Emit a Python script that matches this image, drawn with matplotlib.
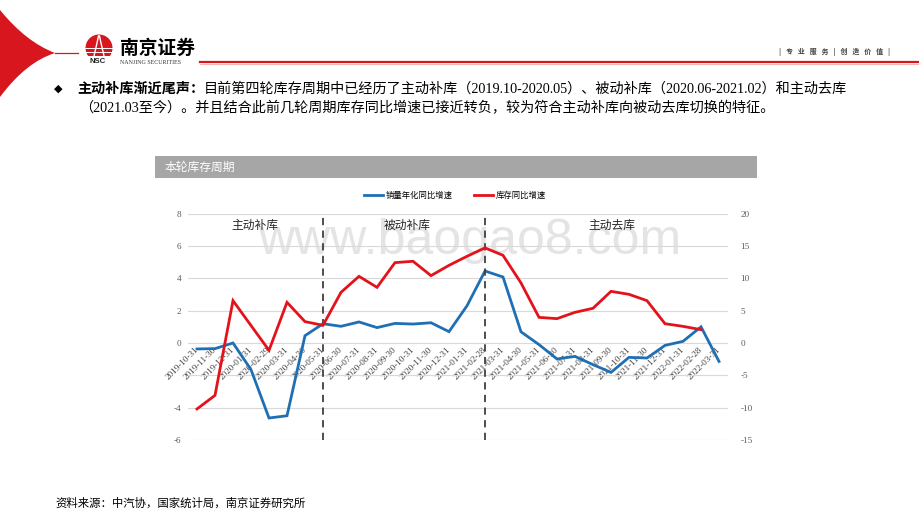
import numpy as np
import matplotlib
matplotlib.use("Agg")
import matplotlib.pyplot as plt
from matplotlib.patches import Rectangle, Circle, PathPatch
from matplotlib.path import Path
from matplotlib.lines import Line2D

plt.rcParams['axes.unicode_minus'] = False

# ---------------- data ----------------
dates = ['2019-10-31', '2019-11-30', '2019-12-31', '2020-01-31', '2020-02-29', '2020-03-31',
         '2020-04-30', '2020-05-31', '2020-06-30', '2020-07-31', '2020-08-31', '2020-09-30',
         '2020-10-31', '2020-11-30', '2020-12-31', '2021-01-31', '2021-02-28', '2021-03-31',
         '2021-04-30', '2021-05-31', '2021-06-30', '2021-07-31', '2021-08-31', '2021-09-30',
         '2021-10-31', '2021-11-30', '2021-12-31', '2022-01-31', '2022-02-28', '2022-03-31']
sales_yoy = [-0.37, -0.35, 0.0, -1.65, -4.64, -4.5, 0.45, 1.19, 1.03, 1.3, 0.95, 1.21,
             1.17, 1.25, 0.7, 2.3, 4.45, 4.08, 0.69, -0.1, -0.99, -0.83, -1.34, -1.82,
             -0.89, -0.93, -0.15, 0.1, 1.0, -1.14]
inventory_yoy = [-10.2, -8.1, 6.54, 2.7, -1.14, 6.28, 3.3, 2.73, 7.83, 10.3, 8.6, 12.42,
                 12.63, 10.41, 12.0, 13.4, 14.7, 13.55, 9.28, 3.96, 3.76, 4.74, 5.36, 7.98,
                 7.52, 6.54, 2.98, 2.57, 2.06, np.nan]
series_names = ['销量年化同比增速', '库存同比增速']
phase_names = ['主动补库', '被动补库', '主动去库']
phase_label_pos = [3.2, 11.7, 23.05]
phase_breaks = ['2020-05-31', '2021-02-28']
left_ticks = [-6, -4, -2, 0, 2, 4, 6, 8]
left_tick_labels = ['-6', '-4', '', '0', '2', '4', '6', '8']
right_ticks = [-15, -10, -5, 0, 5, 10, 15, 20]

W, H = 920, 518
fig = plt.figure(figsize=(W / 100, H / 100), dpi=100)
CJK = ['Noto Sans CJK SC', 'DejaVu Sans']
SERIF_CJK = ['Liberation Serif', 'Noto Sans CJK SC', 'DejaVu Sans']

# overlay axes in pixel coordinates
bg = fig.add_axes([0, 0, 1, 1], zorder=-5)
bg.set_xlim(0, W)
bg.set_ylim(H, 0)
bg.axis('off')

RED = '#d7161e'
# red crescent shape at top-left
verts = [(0, 10), (26, 42), (55, 53), (26, 62), (0, 97), (0, 10)]
codes = [Path.MOVETO, Path.CURVE3, Path.CURVE3, Path.CURVE3, Path.CURVE3, Path.CLOSEPOLY]
bg.add_patch(PathPatch(Path(verts, codes), facecolor=RED, edgecolor='none'))
bg.plot([55, 78], [53, 53], color=RED, lw=0.9)
bg.plot([200, 920], [62, 62], color=RED, lw=1.6)
bg.plot([200, 920], [63.5, 63.5], color='#f2b8b8', lw=0.8)

# logo icon
circ = Circle((99, 48), 13.5, facecolor=RED, edgecolor='none')
bg.add_patch(circ)
bg.add_patch(Rectangle((84, 56), 32, 8, facecolor='white', edgecolor='none'))
for yy in [47.5, 51.5]:
    bg.plot([85, 113], [yy, yy], color='white', lw=0.7)
bg.plot([94, 97, 98.5], [56, 43, 36], color='white', lw=1.0)
bg.plot([104, 101, 99.5], [56, 43, 36], color='white', lw=1.0)
bg.text(98, 61.5, 'NSC', ha='center', va='center', fontsize=5.6, fontweight='bold',
        family=['Liberation Sans'], color='#222222')
bg.text(120, 48, '南京证券', ha='left', va='center', fontsize=13.5, fontweight='bold',
        family=CJK, color='black')
bg.text(120, 62, 'NANJING SECURITIES', ha='left', va='center', fontsize=4.3,
        family=['Liberation Serif'], color='#333333')
bg.text(890, 52, '|   专   业   服   务   |   创   造   价   值   |', ha='right', va='center',
        fontsize=5.0, fontweight='bold', family=CJK, color='#444444')

# body text
r = fig.canvas.get_renderer()
bg.text(58, 89, '◆', ha='center', va='center', fontsize=8, family=['DejaVu Sans'], color='black')
t1 = bg.text(77, 89, '主动补库渐近尾声：', ha='left', va='center', fontsize=10,
             fontweight='bold', family=CJK, color='black')
t2 = bg.text(77, 89, '目前第四轮库存周期中已经历了主动补库（2019.10-2020.05）、被动补库（2020.06-2021.02）和主动去库',
             ha='left', va='center', fontsize=10, family=SERIF_CJK, color='black')
w1 = t1.get_window_extent(r).width
w2 = t2.get_window_extent(r).width
s = 10 * 771 / (w1 + w2)
t1.set_fontsize(s)
t2.set_fontsize(s)
t2.set_x(77 + w1 * s / 10)
bg.text(79, 108, '（2021.03至今）。并且结合此前几轮周期库存同比增速已接近转负，较为符合主动补库向被动去库切换的特征。',
        ha='left', va='center', fontsize=s, family=SERIF_CJK, color='black')

# chart title bar
bg.add_patch(Rectangle((155, 156), 602, 22, facecolor='#a6a6a6', edgecolor='none'))
bg.text(165, 167.5, '本轮库存周期', ha='left', va='center', fontsize=8.5, family=CJK, color='white')

# watermark
bg.text(470, 241, 'www.baogao8.com', ha='center', va='center', fontsize=36,
        family=['Liberation Sans'], color='#e4e4e4')

# footer
bg.text(55, 503, '资料来源：中汽协，国家统计局，南京证券研究所', ha='left', va='center',
        fontsize=8.2, family=CJK, color='black')

# ---------------- chart ----------------
ax = fig.add_axes([188 / W, 1 - 440 / H, 540 / W, (440 - 213.6) / H])
ax.patch.set_visible(False)
x = np.arange(len(dates))
BLUE = '#1f6fb4'
LRED = '#e3121b'
ax.plot(x, sales_yoy, color=BLUE, lw=2.0, zorder=3, solid_joinstyle='miter')
ax.set_xlim(-0.5, len(dates) - 0.5)
ax.set_ylim(-6, 8)
ax.set_yticks(left_ticks)
ax.set_yticklabels(left_tick_labels)
ax.grid(axis='y', color='#d9d9d9', lw=0.8)
ax.set_axisbelow(True)
for sp in ax.spines.values():
    sp.set_visible(False)
ax.spines['bottom'].set_position(('data', 0))
ax.set_xticks(x)
ax.set_xticklabels(dates, rotation=45, ha='right', va='center', rotation_mode='anchor',
                   family=['Liberation Serif'], fontsize=6.6, color='#404040')
ax.tick_params(axis='x', length=0, pad=4)
ax.tick_params(axis='y', length=0, pad=5, labelsize=6.6, labelcolor='#595959')
for lab in ax.get_yticklabels():
    lab.set_family('Liberation Serif')

for d in phase_breaks:
    ax.axvline(dates.index(d), color='#404040', lw=1.3, ls=(0, (4, 3)), zorder=4)
for name, px in zip(phase_names, phase_label_pos):
    ax.text(px, 7.3, name, ha='center', va='center', fontsize=8.5, family=CJK, color='#262626')

ax2 = ax.twinx()
ax2.plot(x, inventory_yoy, color=LRED, lw=2.0, zorder=3, solid_joinstyle='miter')
ax2.set_ylim(-15, 20)
ax2.set_yticks(right_ticks)
for sp in ax2.spines.values():
    sp.set_visible(False)
ax2.tick_params(axis='y', length=0, pad=9, labelsize=6.6, labelcolor='#595959')
for lab in ax2.get_yticklabels():
    lab.set_family('Liberation Serif')

handles = [Line2D([], [], color=BLUE, lw=2), Line2D([], [], color=LRED, lw=2)]
fig.legend(handles, series_names, loc='center', bbox_to_anchor=(455 / W, 1 - 195 / H), ncol=2,
           frameon=False, prop={'family': CJK, 'size': 6}, handlelength=2.3,
           columnspacing=2.5, handletextpad=0.3)

fig.savefig('out.png', dpi=100)
